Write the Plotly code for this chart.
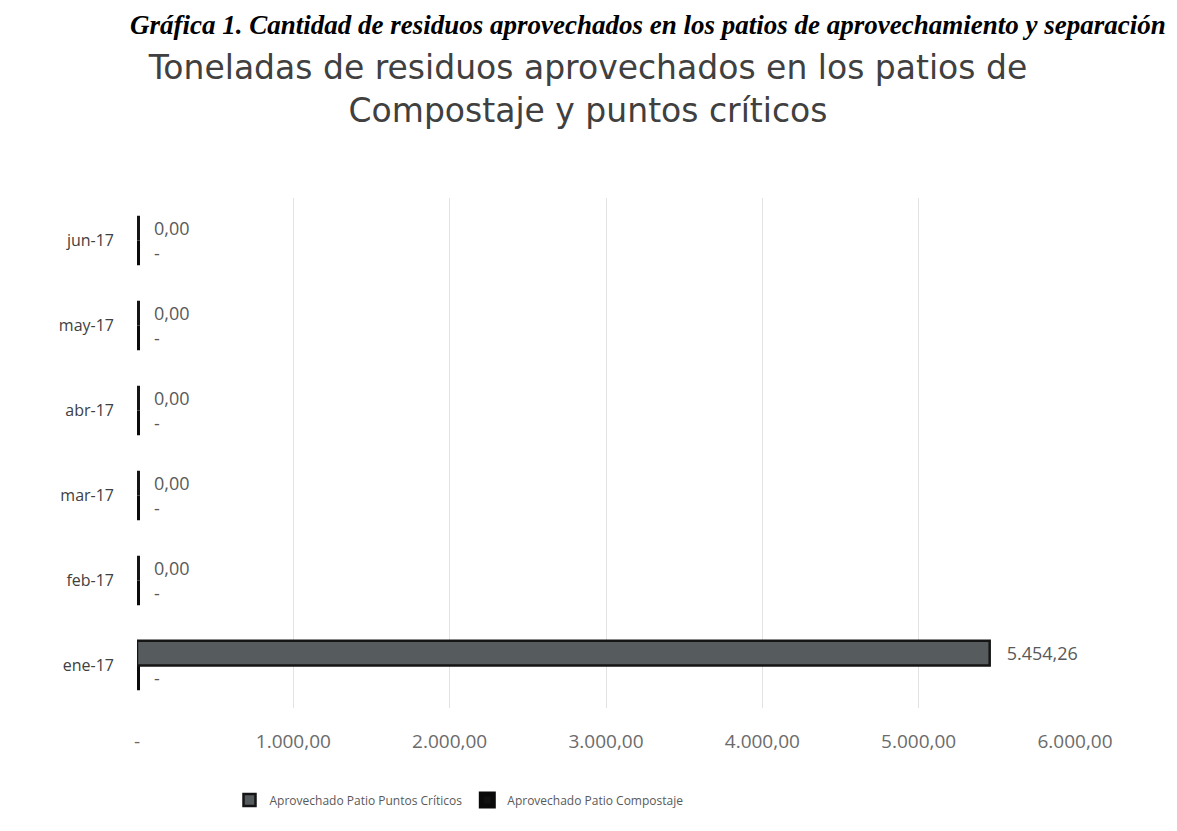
import plotly.graph_objects as go

meses = ["ene-17", "feb-17", "mar-17", "abr-17", "may-17", "jun-17"]
puntos_criticos = [5454.26, 0.00, 0.00, 0.00, 0.00, 0.00]
compostaje = [0, 0, 0, 0, 0, 0]
tick_vals = [0, 1000, 2000, 3000, 4000, 5000, 6000]
tick_text = ["-", "1.000,00", "2.000,00", "3.000,00", "4.000,00", "5.000,00", "6.000,00"]


def fmt_es(v):
    s = f"{v:,.2f}"
    return s.replace(",", "X").replace(".", ",").replace("X", ".")


def fmt_dash(v):
    return "-" if v == 0 else fmt_es(v)


PAD = "\u00a0\u00a0\u00a0"  # visual gap, emulating the 3D depth offset of the labels

W, H = 1177, 831
L, R, T, B = 129, 110, 190, 131
PW = W - L - R
PH = H - T - B

fig = go.Figure()
fig.add_trace(go.Bar(
    y=meses, x=compostaje, orientation="h", name="Aprovechado Patio Compostaje",
    marker=dict(color="#111111",
                line=dict(color="#0a0a0a", width=[6 if v == 0 else 2 for v in compostaje])),
    text=[PAD + fmt_dash(v) for v in compostaje], textposition="outside",
    textfont=dict(family="Open Sans", size=18, color="#595959"),
    cliponaxis=False, legendrank=2,
))
fig.add_trace(go.Bar(
    y=meses, x=puntos_criticos, orientation="h", name="Aprovechado Patio Puntos Críticos",
    marker=dict(color="#565b5e",
                line=dict(color="#151515", width=[6 if v == 0 else 2.5 for v in puntos_criticos])),
    text=[PAD + fmt_es(v) for v in puntos_criticos], textposition="outside",
    textfont=dict(family="Open Sans", size=18, color="#595959"),
    cliponaxis=False, legendrank=1,
))

fig.update_layout(
    width=W, height=H,
    paper_bgcolor="white", plot_bgcolor="white",
    margin=dict(l=L, r=R, t=T, b=B),
    barmode="group", bargap=0.42, bargroupgap=0.0,
    font=dict(family="Open Sans", color="#595959", size=15),
    title=dict(
        text="Toneladas de residuos aprovechados en los patios de<br>Compostaje y puntos críticos",
        x=580 / W, xanchor="center", y=1 - 71 / H, yanchor="middle",
        font=dict(family="DejaVu Sans", size=33, color="#404040"),
    ),
    xaxis=dict(
        range=[0, 6000], tickvals=tick_vals, ticktext=tick_text,
        showgrid=True, gridcolor="#e3e3e3", gridwidth=1,
        zeroline=False, showline=False, ticks="",
        tickfont=dict(size=19, color="#6b6b6b"), ticklabelstandoff=20,
    ),
    yaxis=dict(
        categoryorder="array", categoryarray=meses,
        showgrid=False, zeroline=False, showline=False, ticks="",
        tickfont=dict(size=16, color="#404040"), ticklabelstandoff=22,
    ),
    legend=dict(
        orientation="h", x=(451 - L) / PW, xanchor="center",
        y=-(792 - (H - B)) / PH, yanchor="middle",
        font=dict(size=12, color="#595959"), traceorder="normal",
        itemwidth=30,
    ),
    showlegend=True,
)

fig.add_annotation(
    text="<b><i>Gráfica 1. Cantidad de residuos aprovechados en los patios de aprovechamiento y separación</i></b>",
    xref="paper", yref="paper", x=(1160 - L) / PW, xanchor="right",
    y=1 + T / PH, yanchor="top", showarrow=False,
    font=dict(family="Liberation Serif", size=27, color="#000000"),
)

fig.write_html("out.html")
